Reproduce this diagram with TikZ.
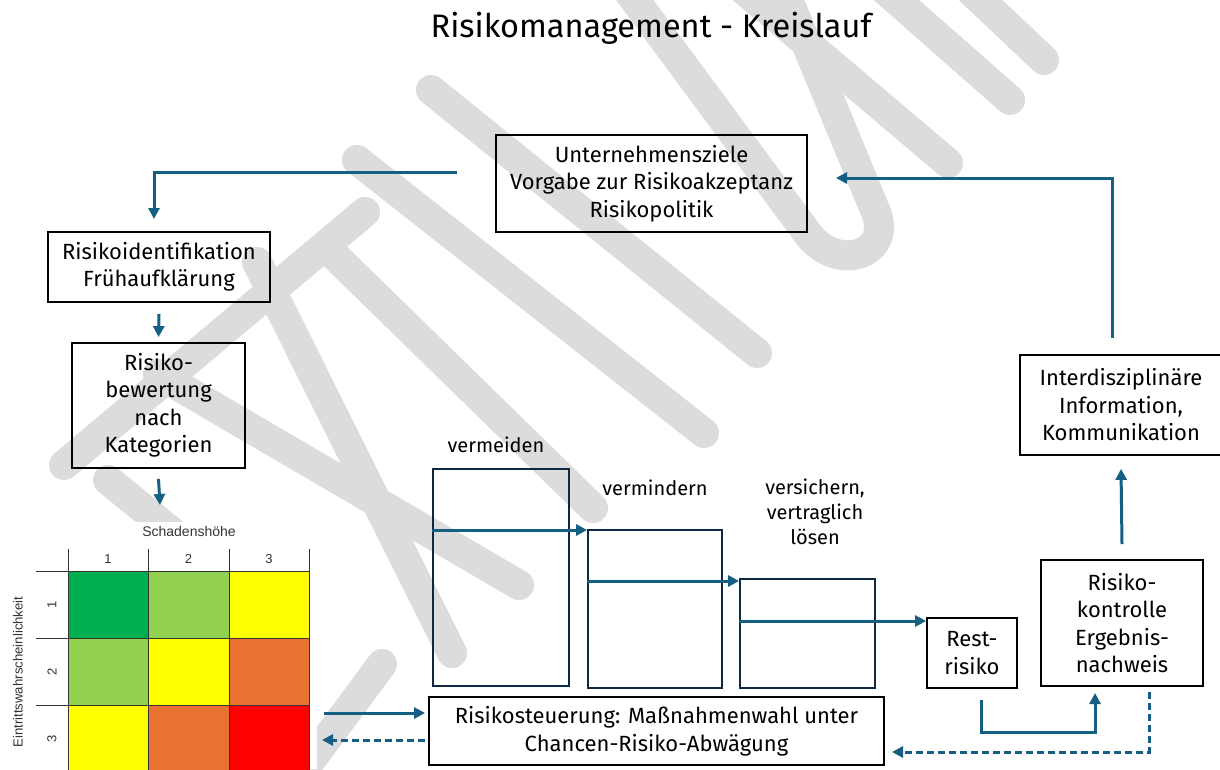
\documentclass[tikz,border=0pt]{standalone}
\usepackage{fontspec}
\setmainfont{Fira Sans}
\newfontfamily\gridfont{Liberation Sans}
\usetikzlibrary{arrows.meta,positioning}

\definecolor{arrowblue}{HTML}{156082}
\definecolor{framenavy}{HTML}{0E2841}
\definecolor{wmgray}{HTML}{DCDCDC}
\definecolor{dkgreen}{HTML}{00B050}
\definecolor{ltgreen}{HTML}{92D050}
\definecolor{cellyellow}{HTML}{FFFF00}
\definecolor{cellorange}{HTML}{E97132}
\definecolor{cellred}{HTML}{FF0000}

\tikzset{
  textbox/.style={draw=black, line width=1.8pt, align=center, inner sep=0pt,
    font=\fontsize{22}{27.5}\selectfont},
  stagebox/.style={draw=framenavy, line width=1.8pt, inner sep=0pt},
  stagelabel/.style={align=center, font=\fontsize{20}{25}\selectfont},
  flow/.style={draw=arrowblue, line width=3pt, -{Triangle[length=11pt,width=11pt]}},
  back/.style={flow, dash pattern=on 7pt off 4pt},
  wm/.style={draw=wmgray, line width=30pt, line cap=round, line join=round},
  gridline/.style={draw=black!80, line width=1pt},
  gridnum/.style={font=\gridfont\fontsize{13}{15}\selectfont, text=black!80},
}

\begin{document}
\begin{tikzpicture}[x=1pt,y=-1pt]
\useasboundingbox (0,0) rectangle (1220,769);
\fill[white] (0,0) rectangle (1220,769);

% watermark
\draw[wm] (64,465) -- (365,212);
\draw[wm] (334,255) -- (593,508);
\draw[wm] (257,262) -- (452,653);
\draw[wm] (158,374) -- (519,585);
\draw[wm] (108,480) -- (280,620);
\draw[wm] (382,664) -- (300,775);
\draw[wm] (431,90) -- (757,353);
\draw[wm] (357,160) -- (704,433);
\draw[wm] (620,-20) -- (805,230) .. controls (835,275) and (895,255) .. (875,210) -- (780,-20);
\draw[wm] (744,-10) -- (948,163);
\draw[wm] (885,-10) -- (1010,100);
\draw[wm] (970,-10) -- (1044,60);

% title
\node[font=\fontsize{32.5}{38}\selectfont] (title) at (651,28) {Risikomanagement - Kreislauf};

% boxes
\node[textbox, minimum width=311pt, minimum height=97pt] (ziele) at (651.5,183.5)
  {Unternehmensziele\\Vorgabe zur Risikoakzeptanz\\Risikopolitik};
\node[textbox, minimum width=222pt, minimum height=70pt] (ident) at (159,267)
  {Risikoidentifikation\\Frühaufklärung};
\node[textbox, minimum width=173pt, minimum height=125pt] (bewert) at (158.5,405.5)
  {Risiko-\\bewertung\\nach\\Kategorien};
\node[textbox, minimum width=202pt, minimum height=100pt] (info) at (1121,405)
  {Interdisziplinäre\\Information,\\Kommunikation};
\node[textbox, minimum width=162pt, minimum height=126pt] (kontrolle) at (1122,623)
  {Risiko-\\kontrolle\\Ergebnis-\\nachweis};
\node[textbox, minimum width=90pt, minimum height=70pt] (rest) at (972,653)
  {Rest-\\risiko};
\node[textbox, minimum width=455pt, minimum height=68pt] (steuer) at (656.5,731)
  {Risikosteuerung: Maßnahmenwahl unter\\Chancen-Risiko-Abwägung};

% measures
\node[stagebox, minimum width=136pt, minimum height=217pt] (vermeiden) at (501,577.5) {};
\node[stagebox, minimum width=134pt, minimum height=158pt] (vermindern) at (655,609) {};
\node[stagebox, minimum width=135pt, minimum height=109pt] (versichern) at (807.5,633.5) {};
\node[stagelabel] (lvermeiden) at (496,445) {vermeiden};
\node[stagelabel] (lvermindern) at (655,488) {vermindern};
\node[stagelabel] (lversichern) at (815,512) {versichern,\\vertraglich\\lösen};

% risk matrix
\fill[white] (0,522) rectangle (317,769);
\fill[dkgreen] (68,571) rectangle (148,638);
\fill[ltgreen] (148,571) rectangle (229,638);
\fill[cellyellow] (229,571) rectangle (309,638);
\fill[ltgreen] (68,638) rectangle (148,705);
\fill[cellyellow] (148,638) rectangle (229,705);
\fill[cellorange] (229,638) rectangle (309,705);
\fill[cellyellow] (68,705) rectangle (148,772);
\fill[cellorange] (148,705) rectangle (229,772);
\fill[cellred] (229,705) rectangle (309,772);
\foreach \gx in {68,148,229,309} \draw[gridline] (\gx,549) -- (\gx,772);
\foreach \gy in {571,638,705} \draw[gridline] (36,\gy) -- (309,\gy);
\foreach \n/\cx in {1/108,2/188.5,3/269}
  \node[gridnum] (col\n) at (\cx,559) {\n};
\foreach \n/\cy in {1/604.5,2/671.5,3/738.5}
  \node[gridnum, rotate=90] (row\n) at (52,\cy) {\n};
\node[gridnum, font=\gridfont\fontsize{14}{16}\selectfont] (schaden) at (189,531) {Schadenshöhe};
\node[gridnum, font=\gridfont\fontsize{13.2}{15}\selectfont, rotate=90] (eintritt) at (18,672) {Eintrittswahrscheinlichkeit};
\coordinate (matrixtop) at (160,505);
\coordinate (matrixout) at (324,713);
\coordinate (matrixin) at (322,740);

% connectors
\coordinate (zieleout) at (457,172);
\coordinate (identin) at (154,219);
\draw[flow] (zieleout) -| (identin);
\draw[flow] ([yshift=-11pt]ident.south) -- ([yshift=5pt]bewert.north);
\draw[flow] ([yshift=-10pt]bewert.south) -- (matrixtop);
\draw[flow] (vermeiden.west |- 0,530) -- (vermindern.west |- 0,530);
\draw[flow] (vermindern.west |- 0,581) -- (versichern.west |- 0,581);
\draw[flow] (versichern.west |- 0,621) -- (rest.west |- 0,621);
\coordinate (restout) at (981,700);
\coordinate (kontrollein) at (1095,693);
\draw[flow] (restout) -- (981,732) -| (kontrollein);
\draw[flow] ([yshift=15pt]kontrolle.north) -- ([yshift=-13pt]info.south);
\coordinate (infoout) at (1112,338);
\coordinate (zielein) at (836,178);
\draw[flow] (infoout) |- (zielein);
\coordinate (kontrolleout) at (1149,692);
\coordinate (steuerin) at (892,752);
\draw[back] (kontrolleout) |- (steuerin);
\draw[flow] (matrixout) -- ([xshift=-3pt]steuer.west |- matrixout);
\draw[back] ([xshift=-3pt]steuer.west |- matrixin) -- (matrixin);
\end{tikzpicture}
\end{document}
